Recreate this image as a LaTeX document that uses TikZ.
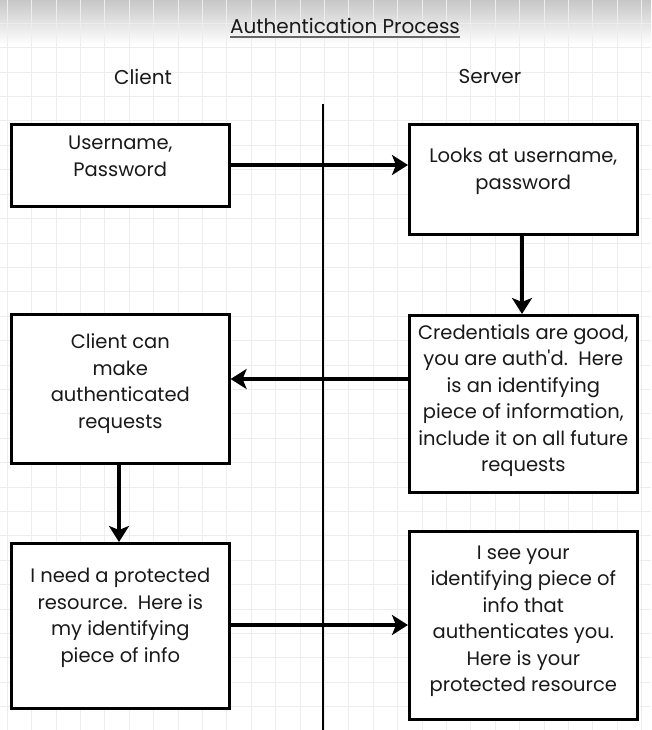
\documentclass[tikz,border=0pt]{standalone}
\usepackage{fontspec}
\setmainfont{Poppins}[Ligatures=TeXOff]
\usetikzlibrary{arrows.meta}
\definecolor{gridc}{HTML}{EDEDED}
\tikzset{
  box/.style={draw=black, line width=2.6pt, fill=white, inner sep=0pt, anchor=north west},
  txt/.style={align=center, font=\fontsize{19.5}{26.5}\selectfont, inner sep=0pt, text=black!90},
  lbl/.style={font=\fontsize{20}{22}\selectfont, inner sep=0pt, text=black!90},
  conn/.style={line width=4pt, -{Stealth[length=16pt,width=20pt,inset=4pt]}},
}
\begin{document}
\begin{tikzpicture}[x=1pt,y=-1pt]
\useasboundingbox (0,0) rectangle (651,730);
\fill[white] (0,0) rectangle (651,730);
\shade[top color=black!22, bottom color=white] (0,0) rectangle (651,45);
\foreach \i in {0,...,26} {\draw[gridc, line width=1pt] ({7.3+24.4*\i},0) -- ({7.3+24.4*\i},730);}
\foreach \j in {-1,...,29} {\draw[gridc, line width=1pt] (0,{23.4+24.4*\j}) -- (651,{23.4+24.4*\j});}
% title
\node[lbl] (title) at (345,26) {Authentication Process};
\coordinate (ul1) at (title.west |- 0,37);
\coordinate (ul2) at (title.east |- 0,37);
\draw[black!60, line width=2pt] (ul1) -- (ul2);
\node[lbl] (client) at (143,77) {Client};
\node[lbl] (server) at (490,77) {Server};
% divider
\coordinate (dtop) at (323,104);
\coordinate (dbot) at (323,730);
\draw[black, line width=2pt] (dtop) -- (dbot);
% boxes
\node[box, minimum width=218pt, minimum height=82pt] (b1) at (10,123) {};
\node[box, minimum width=228pt, minimum height=110pt] (b2) at (408,123) {};
\node[box, minimum width=228pt, minimum height=177pt] (b3) at (408,314) {};
\node[box, minimum width=218pt, minimum height=149pt] (b4) at (10,313) {};
\node[box, minimum width=218pt, minimum height=165pt] (b5) at (10,542) {};
\node[box, minimum width=228pt, minimum height=188pt] (b6) at (408,530) {};
% texts
\node[txt] (t1) at ([yshift=9pt]b1.center) {Username,\\Password};
\node[txt] (t2) at ([yshift=8pt]b2.center) {Looks at username,\\password};
\node[txt] (t3) at ([yshift=3pt]b3.center) {Credentials are good,\\you are auth'd.\ \ Here\\is an identifying\\piece of information,\\include it on all future\\requests};
\node[txt] (t4) at ([yshift=5pt]b4.center) {Client can\\make\\authenticated\\requests};
\node[txt] (t5) at ([yshift=8pt]b5.center) {I need a protected\\resource.\ \ Here is\\my identifying\\piece of info};
\node[txt] (t6) at ([yshift=4pt]b6.center) {I see your\\identifying piece of\\info that\\authenticates you.\\Here is your\\protected resource};
% connectors
\draw[conn] (b1.east |- 0,165) -- (b2.west |- 0,165);
\draw[conn] (b2.south -| 522,0) -- (b3.north -| 522,0);
\draw[conn] (b3.west |- 0,379) -- (b4.east |- 0,379);
\draw[conn] (b4.south -| 119,0) -- (b5.north -| 119,0);
\draw[conn] (b5.east |- 0,625) -- (b6.west |- 0,625);
\end{tikzpicture}
\end{document}
